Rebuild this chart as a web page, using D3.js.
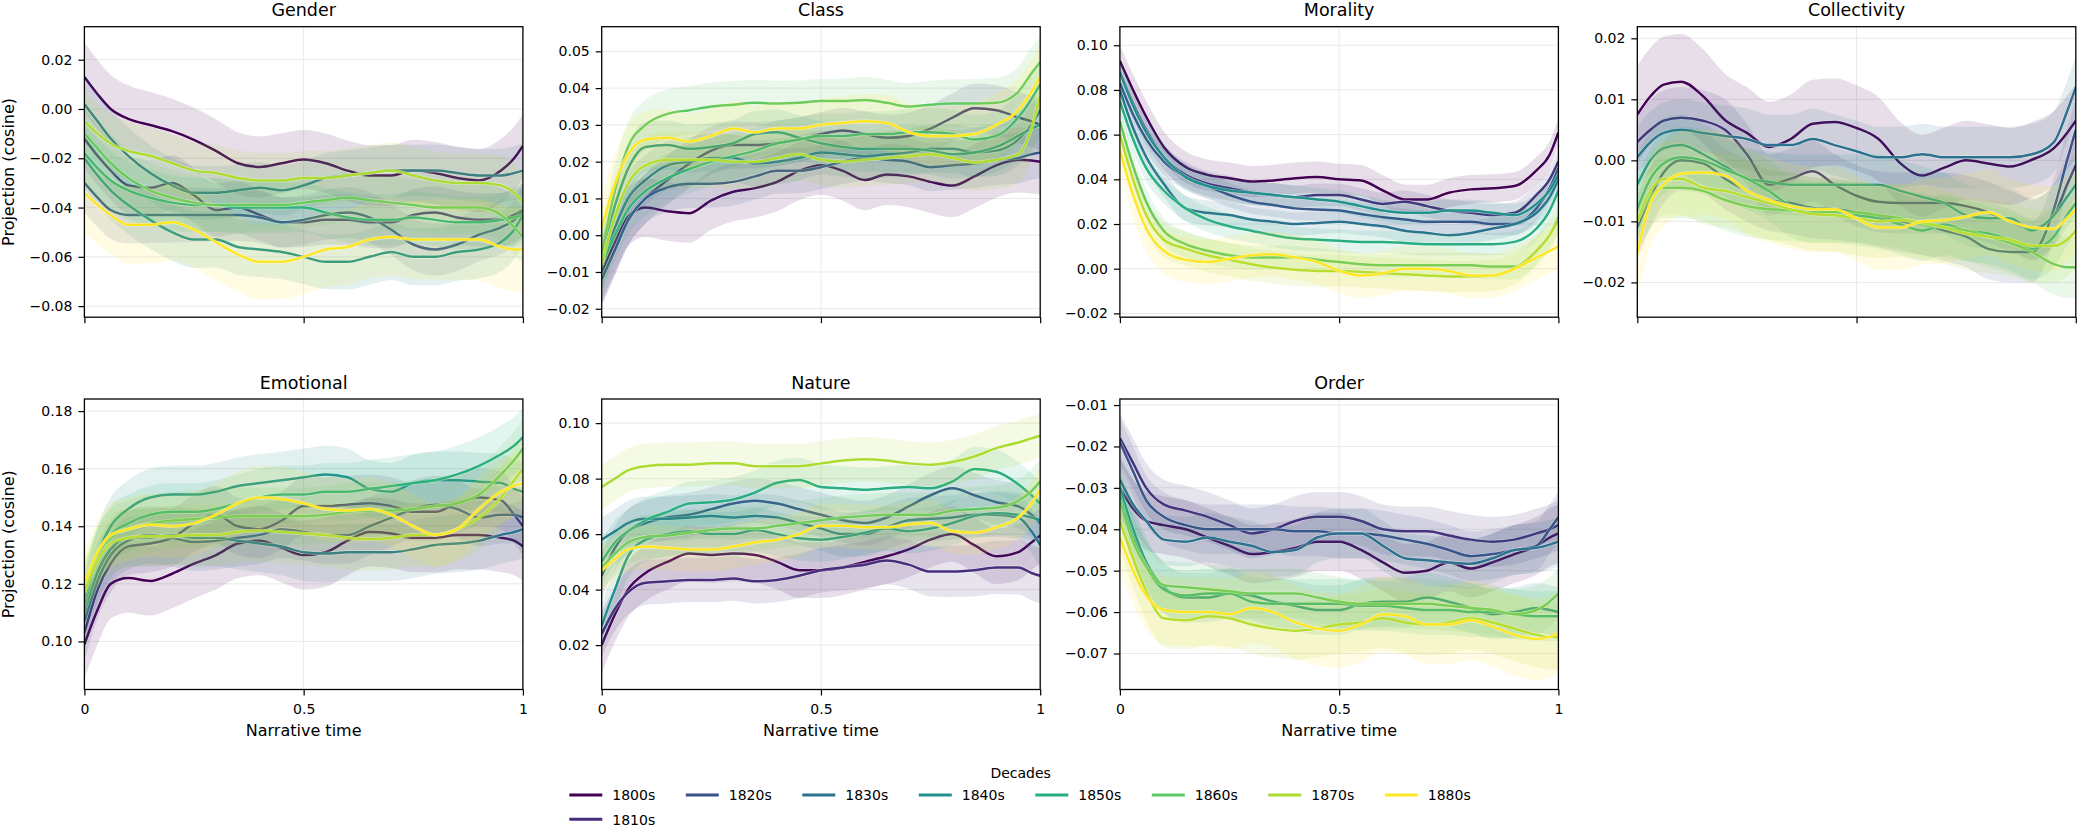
<!DOCTYPE html>
<html>
<head>
<meta charset="utf-8">
<script src="https://cdn.jsdelivr.net/npm/d3@7"></script>
<style>
body { margin: 0; background: #fff; }
text { font-family: "DejaVu Sans", sans-serif; fill: #000; }
</style>
</head>
<body>
<script>
// narrative time grid (x positions where values were read)
var narrativeTime = [0, 0.03, 0.06, 0.1, 0.15, 0.2, 0.25, 0.3, 0.35, 0.4, 0.45, 0.5, 0.55, 0.6, 0.65, 0.7, 0.75, 0.8, 0.85, 0.9, 0.95, 0.98, 1];
var decades = ["1800s", "1810s", "1820s", "1830s", "1840s", "1850s", "1860s", "1870s", "1880s"];
var xTicks = [0, 0.5, 1];

// mean projection per decade (same order as decades)
var gender = [
  [0.013, 0.006, 0.000, -0.004, -0.0065, -0.009, -0.0125, -0.017, -0.022, -0.0235, -0.022, -0.0205, -0.022, -0.025, -0.027, -0.027, -0.025, -0.026, -0.028, -0.029, -0.025, -0.020, -0.015],
  [-0.012, -0.019, -0.025, -0.031, -0.032, -0.030, -0.035, -0.041, -0.040, -0.043, -0.046, -0.046, -0.045, -0.045, -0.046, -0.046, -0.043, -0.042, -0.044, -0.045, -0.045, -0.043, -0.041],
  [-0.030, -0.036, -0.041, -0.043, -0.043, -0.043, -0.043, -0.043, -0.043, -0.044, -0.046, -0.045, -0.043, -0.042, -0.044, -0.049, -0.055, -0.057, -0.055, -0.051, -0.048, -0.045, -0.041],
  [0.002, -0.005, -0.012, -0.019, -0.026, -0.031, -0.034, -0.034, -0.033, -0.032, -0.033, -0.031, -0.028, -0.027, -0.026, -0.025, -0.025, -0.025, -0.026, -0.027, -0.027, -0.026, -0.025],
  [-0.020, -0.027, -0.033, -0.039, -0.045, -0.050, -0.053, -0.053, -0.056, -0.057, -0.058, -0.060, -0.062, -0.062, -0.060, -0.058, -0.060, -0.060, -0.058, -0.057, -0.054, -0.049, -0.043],
  [-0.018, -0.024, -0.029, -0.033, -0.036, -0.038, -0.039, -0.039, -0.040, -0.040, -0.040, -0.040, -0.042, -0.044, -0.045, -0.045, -0.044, -0.045, -0.046, -0.046, -0.045, -0.044, -0.043],
  [-0.010, -0.016, -0.022, -0.028, -0.033, -0.036, -0.038, -0.039, -0.039, -0.039, -0.039, -0.038, -0.037, -0.036, -0.037, -0.038, -0.039, -0.040, -0.040, -0.040, -0.043, -0.048, -0.052],
  [-0.005, -0.010, -0.014, -0.017, -0.019, -0.022, -0.025, -0.026, -0.028, -0.029, -0.029, -0.028, -0.028, -0.027, -0.026, -0.025, -0.027, -0.029, -0.030, -0.030, -0.031, -0.034, -0.038],
  [-0.034, -0.039, -0.043, -0.047, -0.047, -0.046, -0.049, -0.054, -0.059, -0.062, -0.062, -0.060, -0.057, -0.056, -0.053, -0.052, -0.053, -0.053, -0.053, -0.053, -0.056, -0.057, -0.057]
];
var classData = [
  [-0.010, -0.002, 0.005, 0.0075, 0.0065, 0.006, 0.0095, 0.0118, 0.0128, 0.0145, 0.0175, 0.019, 0.0175, 0.015, 0.0165, 0.016, 0.0145, 0.0135, 0.016, 0.019, 0.0205, 0.0203, 0.020],
  [-0.012, -0.004, 0.004, 0.010, 0.015, 0.0195, 0.023, 0.0245, 0.0245, 0.025, 0.026, 0.0275, 0.0285, 0.0275, 0.0265, 0.027, 0.029, 0.032, 0.0345, 0.034, 0.032, 0.031, 0.030],
  [-0.012, -0.004, 0.004, 0.010, 0.013, 0.014, 0.014, 0.0145, 0.016, 0.0175, 0.0175, 0.0185, 0.020, 0.021, 0.0205, 0.020, 0.0185, 0.019, 0.0195, 0.0205, 0.021, 0.022, 0.0225],
  [-0.008, 0.002, 0.010, 0.015, 0.019, 0.020, 0.021, 0.021, 0.0195, 0.020, 0.021, 0.0225, 0.022, 0.0215, 0.022, 0.0225, 0.0235, 0.0235, 0.0225, 0.023, 0.026, 0.030, 0.034],
  [-0.005, 0.008, 0.018, 0.024, 0.0245, 0.0235, 0.024, 0.025, 0.0275, 0.028, 0.0265, 0.025, 0.024, 0.0235, 0.0235, 0.0235, 0.023, 0.022, 0.0225, 0.024, 0.027, 0.029, 0.030],
  [-0.008, 0.000, 0.007, 0.012, 0.0155, 0.018, 0.020, 0.0215, 0.023, 0.025, 0.026, 0.027, 0.027, 0.0275, 0.0275, 0.028, 0.028, 0.0275, 0.026, 0.027, 0.032, 0.037, 0.041],
  [-0.005, 0.012, 0.024, 0.030, 0.033, 0.034, 0.035, 0.0355, 0.036, 0.0358, 0.036, 0.0365, 0.0365, 0.0368, 0.036, 0.035, 0.0355, 0.0358, 0.0358, 0.036, 0.039, 0.044, 0.047],
  [-0.008, 0.005, 0.014, 0.019, 0.0205, 0.0205, 0.0205, 0.020, 0.020, 0.021, 0.022, 0.0205, 0.020, 0.0205, 0.021, 0.0215, 0.022, 0.021, 0.0198, 0.0205, 0.022, 0.029, 0.038],
  [0.002, 0.014, 0.022, 0.026, 0.0265, 0.0255, 0.027, 0.029, 0.028, 0.029, 0.029, 0.030, 0.0305, 0.031, 0.0305, 0.028, 0.027, 0.027, 0.0275, 0.030, 0.034, 0.039, 0.043]
];
var morality = [
  [0.093, 0.080, 0.068, 0.0545, 0.0455, 0.042, 0.0405, 0.039, 0.0395, 0.0405, 0.041, 0.040, 0.0395, 0.035, 0.031, 0.031, 0.034, 0.0355, 0.036, 0.037, 0.044, 0.051, 0.061],
  [0.088, 0.074, 0.062, 0.050, 0.042, 0.038, 0.036, 0.034, 0.033, 0.032, 0.033, 0.033, 0.031, 0.029, 0.030, 0.028, 0.026, 0.025, 0.024, 0.025, 0.033, 0.040, 0.048],
  [0.083, 0.069, 0.058, 0.048, 0.041, 0.037, 0.033, 0.030, 0.0285, 0.027, 0.0265, 0.026, 0.0245, 0.023, 0.022, 0.021, 0.021, 0.021, 0.020, 0.020, 0.027, 0.036, 0.045],
  [0.080, 0.063, 0.050, 0.038, 0.027, 0.025, 0.024, 0.022, 0.021, 0.020, 0.0205, 0.021, 0.020, 0.019, 0.017, 0.016, 0.015, 0.016, 0.018, 0.020, 0.025, 0.032, 0.040],
  [0.088, 0.073, 0.061, 0.050, 0.041, 0.037, 0.035, 0.034, 0.033, 0.032, 0.031, 0.030, 0.028, 0.026, 0.025, 0.025, 0.026, 0.026, 0.025, 0.024, 0.029, 0.035, 0.042],
  [0.075, 0.058, 0.045, 0.035, 0.027, 0.022, 0.019, 0.017, 0.015, 0.0135, 0.013, 0.0125, 0.012, 0.012, 0.0115, 0.011, 0.011, 0.011, 0.011, 0.012, 0.018, 0.026, 0.035],
  [0.066, 0.046, 0.030, 0.017, 0.011, 0.008, 0.006, 0.005, 0.005, 0.005, 0.004, 0.003, 0.002, 0.0015, 0.0015, 0.0015, 0.0015, 0.0015, 0.001, 0.001, 0.008, 0.015, 0.023],
  [0.060, 0.040, 0.024, 0.013, 0.009, 0.006, 0.004, 0.002, 0.0005, -0.0005, -0.001, -0.001, -0.0015, -0.002, -0.0025, -0.003, -0.0035, -0.0035, -0.003, 0.000, 0.008, 0.015, 0.022],
  [0.053, 0.033, 0.018, 0.008, 0.004, 0.003, 0.0045, 0.006, 0.0065, 0.005, 0.003, -0.001, -0.003, -0.002, 0.000, 0.000, -0.001, -0.003, -0.003, 0.000, 0.005, 0.008, 0.010]
];
var collectivity = [
  [0.0075, 0.0105, 0.0124, 0.0129, 0.0105, 0.0066, 0.0045, 0.0022, 0.0035, 0.006, 0.0063, 0.0053, 0.0035, -0.0005, -0.0025, -0.0012, 0.000, -0.0005, -0.001, 0.0001, 0.002, 0.0045, 0.0065],
  [0.003, 0.005, 0.0065, 0.007, 0.0065, 0.005, 0.001, -0.004, -0.003, -0.0018, -0.004, -0.0058, -0.0068, -0.007, -0.007, -0.007, -0.0075, -0.0085, -0.010, -0.0112, -0.009, -0.004, -0.0008],
  [-0.011, -0.006, -0.002, 0.000, -0.0005, -0.003, -0.005, -0.0065, -0.007, -0.0078, -0.008, -0.0085, -0.0092, -0.010, -0.0105, -0.0115, -0.0125, -0.0145, -0.015, -0.015, -0.008, 0.000, 0.005],
  [0.0005, 0.003, 0.0045, 0.005, 0.0045, 0.004, 0.0035, 0.0025, 0.0025, 0.0035, 0.0025, 0.0015, 0.0005, 0.0005, 0.001, 0.0005, 0.0005, 0.0005, 0.0005, 0.001, 0.003, 0.008, 0.012],
  [-0.004, 0.000, 0.002, 0.0025, 0.001, -0.001, -0.003, -0.0035, -0.004, -0.004, -0.004, -0.004, -0.004, -0.005, -0.006, -0.007, -0.009, -0.0095, -0.0095, -0.0115, -0.009, -0.006, -0.004],
  [-0.008, -0.003, -0.0005, 0.0005, 0.000, -0.0015, -0.003, -0.005, -0.0075, -0.0085, -0.0085, -0.009, -0.0095, -0.0105, -0.0115, -0.0105, -0.0115, -0.012, -0.013, -0.0145, -0.0125, -0.009, -0.007],
  [-0.010, -0.006, -0.0045, -0.0045, -0.005, -0.0065, -0.0075, -0.008, -0.0082, -0.0085, -0.0085, -0.0085, -0.009, -0.0095, -0.0105, -0.011, -0.0115, -0.0125, -0.0135, -0.015, -0.017, -0.0175, -0.0175],
  [-0.010, -0.005, -0.003, -0.003, -0.0045, -0.005, -0.006, -0.007, -0.008, -0.0088, -0.009, -0.0095, -0.010, -0.0098, -0.0102, -0.011, -0.012, -0.0125, -0.013, -0.014, -0.014, -0.013, -0.0115],
  [-0.015, -0.007, -0.004, -0.0022, -0.002, -0.0025, -0.005, -0.0065, -0.0075, -0.008, -0.008, -0.0095, -0.011, -0.011, -0.010, -0.0098, -0.0092, -0.0085, -0.010, -0.011, -0.0112, -0.0095, -0.008]
];
var emotional = [
  [0.099, 0.111, 0.120, 0.122, 0.121, 0.1235, 0.127, 0.130, 0.134, 0.135, 0.1325, 0.130, 0.131, 0.135, 0.138, 0.1375, 0.136, 0.136, 0.137, 0.137, 0.136, 0.135, 0.133],
  [0.103, 0.118, 0.127, 0.133, 0.134, 0.136, 0.141, 0.144, 0.140, 0.139, 0.142, 0.147, 0.147, 0.1475, 0.148, 0.147, 0.145, 0.145, 0.148, 0.150, 0.149, 0.144, 0.140],
  [0.107, 0.121, 0.130, 0.135, 0.137, 0.136, 0.1345, 0.135, 0.136, 0.137, 0.139, 0.138, 0.137, 0.137, 0.140, 0.143, 0.146, 0.1475, 0.146, 0.143, 0.144, 0.144, 0.143],
  [0.110, 0.124, 0.132, 0.136, 0.136, 0.137, 0.136, 0.136, 0.135, 0.134, 0.133, 0.131, 0.1305, 0.131, 0.131, 0.131, 0.132, 0.1335, 0.134, 0.135, 0.137, 0.138, 0.139],
  [0.112, 0.130, 0.140, 0.146, 0.150, 0.151, 0.151, 0.152, 0.154, 0.155, 0.156, 0.157, 0.158, 0.157, 0.153, 0.152, 0.155, 0.156, 0.156, 0.1555, 0.155, 0.153, 0.152],
  [0.115, 0.129, 0.137, 0.141, 0.144, 0.145, 0.145, 0.146, 0.148, 0.150, 0.151, 0.151, 0.152, 0.152, 0.153, 0.154, 0.155, 0.156, 0.158, 0.161, 0.165, 0.168, 0.171],
  [0.118, 0.130, 0.136, 0.139, 0.141, 0.142, 0.1425, 0.143, 0.1435, 0.1435, 0.1435, 0.1435, 0.144, 0.145, 0.1455, 0.1455, 0.146, 0.147, 0.148, 0.151, 0.158, 0.163, 0.167],
  [0.117, 0.128, 0.134, 0.136, 0.1365, 0.1365, 0.137, 0.137, 0.138, 0.1385, 0.138, 0.1375, 0.137, 0.136, 0.1355, 0.136, 0.137, 0.137, 0.139, 0.143, 0.150, 0.156, 0.160],
  [0.120, 0.131, 0.137, 0.139, 0.1405, 0.140, 0.141, 0.144, 0.148, 0.150, 0.1495, 0.148, 0.146, 0.1455, 0.146, 0.144, 0.140, 0.137, 0.139, 0.146, 0.152, 0.154, 0.155]
];
var nature = [
  [0.020, 0.031, 0.040, 0.046, 0.050, 0.053, 0.0525, 0.053, 0.0525, 0.050, 0.047, 0.047, 0.048, 0.050, 0.052, 0.0545, 0.058, 0.060, 0.056, 0.052, 0.0535, 0.057, 0.0595],
  [0.024, 0.033, 0.039, 0.0425, 0.043, 0.0435, 0.0435, 0.044, 0.043, 0.0435, 0.045, 0.047, 0.048, 0.049, 0.0505, 0.049, 0.0465, 0.0465, 0.047, 0.048, 0.048, 0.046, 0.045],
  [0.045, 0.055, 0.061, 0.064, 0.066, 0.067, 0.069, 0.071, 0.072, 0.071, 0.069, 0.067, 0.065, 0.064, 0.066, 0.070, 0.074, 0.0765, 0.074, 0.0715, 0.070, 0.067, 0.064],
  [0.058, 0.061, 0.064, 0.0655, 0.0655, 0.066, 0.0665, 0.066, 0.0665, 0.066, 0.064, 0.062, 0.060, 0.060, 0.0625, 0.065, 0.0655, 0.066, 0.067, 0.067, 0.066, 0.061, 0.056],
  [0.027, 0.040, 0.052, 0.058, 0.060, 0.061, 0.060, 0.060, 0.0615, 0.060, 0.0585, 0.058, 0.059, 0.0605, 0.062, 0.061, 0.062, 0.064, 0.0665, 0.0675, 0.067, 0.066, 0.065],
  [0.050, 0.057, 0.061, 0.065, 0.068, 0.071, 0.0715, 0.0725, 0.075, 0.0785, 0.0795, 0.077, 0.0765, 0.076, 0.0765, 0.077, 0.0765, 0.079, 0.0835, 0.0825, 0.078, 0.074, 0.071],
  [0.048, 0.053, 0.057, 0.059, 0.0595, 0.0605, 0.0615, 0.062, 0.062, 0.063, 0.064, 0.065, 0.066, 0.0665, 0.067, 0.067, 0.067, 0.0685, 0.069, 0.0695, 0.072, 0.0755, 0.079],
  [0.077, 0.080, 0.083, 0.0845, 0.085, 0.085, 0.0855, 0.0855, 0.0845, 0.0845, 0.0845, 0.0855, 0.0865, 0.087, 0.0865, 0.0855, 0.085, 0.086, 0.088, 0.091, 0.093, 0.0945, 0.0955],
  [0.047, 0.051, 0.0545, 0.0555, 0.055, 0.0545, 0.0545, 0.0555, 0.057, 0.058, 0.060, 0.063, 0.063, 0.0625, 0.0625, 0.0635, 0.064, 0.061, 0.0605, 0.0625, 0.066, 0.071, 0.076]
];
var order = [
  [-0.030, -0.035, -0.038, -0.039, -0.040, -0.042, -0.044, -0.046, -0.0455, -0.0445, -0.043, -0.043, -0.045, -0.048, -0.0505, -0.050, -0.048, -0.0495, -0.048, -0.046, -0.044, -0.042, -0.041],
  [-0.018, -0.024, -0.030, -0.034, -0.0355, -0.037, -0.039, -0.041, -0.040, -0.038, -0.037, -0.037, -0.038, -0.040, -0.0405, -0.0405, -0.0415, -0.0425, -0.043, -0.0425, -0.041, -0.040, -0.039],
  [-0.019, -0.026, -0.033, -0.037, -0.039, -0.040, -0.040, -0.040, -0.040, -0.0405, -0.0405, -0.041, -0.041, -0.0415, -0.0425, -0.0435, -0.045, -0.0465, -0.046, -0.045, -0.044, -0.040, -0.037],
  [-0.028, -0.034, -0.038, -0.0425, -0.043, -0.042, -0.043, -0.044, -0.0455, -0.045, -0.042, -0.041, -0.041, -0.044, -0.047, -0.0475, -0.048, -0.0483, -0.047, -0.045, -0.0445, -0.0437, -0.043],
  [-0.030, -0.040, -0.048, -0.054, -0.0565, -0.0565, -0.0555, -0.056, -0.0575, -0.0585, -0.0595, -0.0595, -0.058, -0.0575, -0.0575, -0.0565, -0.0575, -0.059, -0.0605, -0.060, -0.059, -0.0595, -0.060],
  [-0.032, -0.042, -0.049, -0.0545, -0.056, -0.0555, -0.0555, -0.0575, -0.058, -0.058, -0.058, -0.058, -0.0585, -0.0585, -0.059, -0.0595, -0.0595, -0.060, -0.060, -0.0605, -0.061, -0.061, -0.061],
  [-0.033, -0.043, -0.049, -0.0535, -0.054, -0.0545, -0.055, -0.0555, -0.0555, -0.0555, -0.0565, -0.0575, -0.058, -0.058, -0.058, -0.058, -0.0585, -0.059, -0.0595, -0.0605, -0.0595, -0.0575, -0.0555],
  [-0.038, -0.047, -0.055, -0.0615, -0.062, -0.061, -0.0615, -0.063, -0.064, -0.0645, -0.064, -0.063, -0.0625, -0.0615, -0.0625, -0.063, -0.0625, -0.0615, -0.0625, -0.064, -0.0655, -0.066, -0.066],
  [-0.042, -0.050, -0.056, -0.0595, -0.060, -0.060, -0.0605, -0.059, -0.060, -0.0625, -0.064, -0.0645, -0.063, -0.0605, -0.061, -0.063, -0.063, -0.062, -0.0635, -0.0655, -0.0665, -0.066, -0.065]
];

// half-width of the shaded band at narrative time 0, 0.5 and 1
var genderBand = [[0.014,0.012,0.013],[0.012,0.010,0.011],[0.012,0.010,0.011],[0.012,0.010,0.011],[0.012,0.011,0.012],[0.012,0.010,0.011],[0.012,0.010,0.011],[0.012,0.011,0.012],[0.016,0.015,0.017]];
var classBand = [[0.008,0.008,0.009],[0.007,0.006,0.007],[0.007,0.006,0.007],[0.007,0.006,0.007],[0.007,0.006,0.007],[0.007,0.006,0.007],[0.007,0.006,0.007],[0.008,0.007,0.008],[0.008,0.007,0.009]];
var moralityBand = [[0.007,0.007,0.006],[0.006,0.005,0.005],[0.006,0.005,0.005],[0.006,0.005,0.005],[0.006,0.005,0.005],[0.006,0.005,0.005],[0.006,0.005,0.006],[0.008,0.007,0.007],[0.010,0.010,0.010]];
var collectivityBand = [[0.008,0.007,0.006],[0.005,0.005,0.005],[0.005,0.005,0.005],[0.005,0.005,0.005],[0.005,0.005,0.005],[0.005,0.005,0.005],[0.005,0.005,0.005],[0.006,0.006,0.006],[0.007,0.007,0.007]];
var emotionalBand = [[0.012,0.012,0.012],[0.010,0.010,0.010],[0.010,0.010,0.010],[0.010,0.010,0.010],[0.010,0.010,0.010],[0.010,0.010,0.010],[0.010,0.010,0.010],[0.010,0.011,0.011],[0.011,0.011,0.011]];
var natureBand = [[0.010,0.010,0.010],[0.008,0.008,0.010],[0.008,0.008,0.008],[0.008,0.008,0.008],[0.008,0.008,0.008],[0.008,0.008,0.008],[0.008,0.008,0.008],[0.008,0.008,0.008],[0.008,0.008,0.008]];
var orderBand = [[0.007,0.007,0.007],[0.006,0.006,0.006],[0.006,0.006,0.006],[0.006,0.006,0.006],[0.006,0.006,0.006],[0.006,0.006,0.006],[0.006,0.006,0.006],[0.007,0.007,0.008],[0.008,0.009,0.010]];

// y tick labels and y ranges
var genderTicks = [0.02, 0, -0.02, -0.04, -0.06, -0.08];
var classTicks = [0.05, 0.04, 0.03, 0.02, 0.01, 0, -0.01, -0.02];
var moralityTicks = [0.10, 0.08, 0.06, 0.04, 0.02, 0, -0.02];
var collectivityTicks = [0.02, 0.01, 0, -0.01, -0.02];
var emotionalTicks = [0.18, 0.16, 0.14, 0.12, 0.10];
var natureTicks = [0.10, 0.08, 0.06, 0.04, 0.02];
var orderTicks = [-0.01, -0.02, -0.03, -0.04, -0.05, -0.06, -0.07];

var genderRange = [-0.0845, 0.0334];
var classRange = [-0.0223, 0.0567];
var moralityRange = [-0.0217, 0.1083];
var collectivityRange = [-0.0257, 0.0219];
var emotionalRange = [0.0833, 0.1842];
var natureRange = [0.004, 0.1087];
var orderRange = [-0.0787, -0.00854];

var panels = [
  {title: "Gender", values: gender, band: genderBand, ticks: genderTicks, range: genderRange},
  {title: "Class", values: classData, band: classBand, ticks: classTicks, range: classRange},
  {title: "Morality", values: morality, band: moralityBand, ticks: moralityTicks, range: moralityRange},
  {title: "Collectivity", values: collectivity, band: collectivityBand, ticks: collectivityTicks, range: collectivityRange},
  {title: "Emotional", values: emotional, band: emotionalBand, ticks: emotionalTicks, range: emotionalRange},
  {title: "Nature", values: nature, band: natureBand, ticks: natureTicks, range: natureRange},
  {title: "Order", values: order, band: orderBand, ticks: orderTicks, range: orderRange}
];

// layout
var colLeft = [84.4, 601.7, 1119.9, 1637.3],
    rowTop = [26.7, 399],
    w = 438.5,
    h = 290.5;

var color = function(i) { return d3.interpolateViridis(i / (decades.length - 1)); };
var yFmt = d3.format(".2f");

var svg = d3.select("body").append("svg")
    .attr("width", 2082)
    .attr("height", 827);

panels.forEach(function(p, k) {
  var col = k % 4, row = Math.floor(k / 4);
  var bottomRow = k >= 4;

  var x = d3.scaleLinear().domain([0, 1]).range([0, w]);
  var y = d3.scaleLinear().domain(p.range).range([h, 0]);

  var g = svg.append("g")
      .attr("transform", "translate(" + colLeft[col] + "," + rowTop[row] + ")");

  g.append("clipPath").attr("id", "clip" + k)
    .append("rect").attr("width", w).attr("height", h);

  // grid
  var grid = g.append("g").attr("class", "grid");
  grid.selectAll("line.gy").data(p.ticks).join("line")
      .attr("class", "gy")
      .attr("x1", 0).attr("x2", w)
      .attr("y1", function(d) { return y(d); })
      .attr("y2", function(d) { return y(d); })
      .attr("stroke", "#e9e9e9").attr("stroke-width", 1);
  grid.append("line")
      .attr("x1", x(0.5)).attr("x2", x(0.5))
      .attr("y1", 0).attr("y2", h)
      .attr("stroke", "#e9e9e9").attr("stroke-width", 1);

  var plot = g.append("g").attr("clip-path", "url(#clip" + k + ")");

  p.values.forEach(function(series, i) {
    var hw = d3.scaleLinear().domain([0, 0.5, 1]).range(p.band[i]);
    var pts = narrativeTime.map(function(t, j) { return {t: t, v: series[j]}; });

    var area = d3.area()
        .curve(d3.curveMonotoneX)
        .x(function(d) { return x(d.t); })
        .y0(function(d) { return y(d.v - hw(d.t)); })
        .y1(function(d) { return y(d.v + hw(d.t)); });
    var line = d3.line()
        .curve(d3.curveMonotoneX)
        .x(function(d) { return x(d.t); })
        .y(function(d) { return y(d.v); });

    plot.append("path").datum(pts)
        .attr("d", area)
        .attr("fill", color(i))
        .attr("fill-opacity", 0.13);
    plot.append("path").datum(pts)
        .attr("d", line)
        .attr("fill", "none")
        .attr("stroke", "#fff")
        .attr("stroke-opacity", 0.5)
        .attr("stroke-width", 3.6);
    plot.append("path").datum(pts)
        .attr("d", line)
        .attr("fill", "none")
        .attr("stroke", color(i))
        .attr("stroke-width", 2.5);
  });

  // axes
  var yAxis = g.append("g")
      .call(d3.axisLeft(y).tickValues(p.ticks).tickFormat(yFmt).tickSize(6).tickPadding(6));
  var xAxis = g.append("g")
      .attr("transform", "translate(0," + h + ")")
      .call(d3.axisBottom(x).tickValues(xTicks).tickSize(6).tickPadding(8.5)
        .tickFormat(bottomRow ? d3.format("~g") : ""));
  [yAxis, xAxis].forEach(function(a) {
    a.select(".domain").remove();
    a.selectAll(".tick line").attr("stroke", "#000").attr("stroke-width", 1.2);
    a.selectAll(".tick text").style("font-size", "14px").style("font-family", "DejaVu Sans, sans-serif").attr("fill", "#000");
  });

  g.append("rect")
      .attr("width", w).attr("height", h)
      .attr("fill", "none")
      .attr("stroke", "#000")
      .attr("stroke-width", 1.3);

  g.append("text")
      .attr("x", w / 2).attr("y", -10.5)
      .attr("text-anchor", "middle")
      .style("font-size", "17.5px")
      .text(p.title);

  if (col === 0) {
    g.append("text")
        .attr("transform", "translate(" + (14 - colLeft[0]) + "," + (h / 2) + ") rotate(-90)")
        .attr("text-anchor", "middle")
        .style("font-size", "16px")
        .text("Projection (cosine)");
  }
  if (bottomRow) {
    g.append("text")
        .attr("x", w / 2).attr("y", h + 46.7)
        .attr("text-anchor", "middle")
        .style("font-size", "16px")
        .text("Narrative time");
  }
});

// legend
var legend = svg.append("g").attr("class", "legend");
legend.append("text")
    .attr("x", 1020.7).attr("y", 778)
    .attr("text-anchor", "middle")
    .style("font-size", "14px")
    .text("Decades");

var legendItem = legend.selectAll("g.item")
    .data(decades)
    .join("g")
    .attr("class", "item")
    .attr("transform", function(d, i) {
      var c = i < 2 ? 0 : i - 1,
          r = i === 1 ? 1 : 0;
      return "translate(" + (569.3 + c * 116.5) + "," + (795 + r * 24.3) + ")";
    });
legendItem.append("line")
    .attr("x1", 0).attr("x2", 33)
    .attr("stroke", "#fff").attr("stroke-opacity", 0.5).attr("stroke-width", 4.6);
legendItem.append("line")
    .attr("x1", 0).attr("x2", 33)
    .attr("stroke", function(d, i) { return color(i); })
    .attr("stroke-width", 3);
legendItem.append("text")
    .attr("x", 43).attr("y", 5.3)
    .style("font-size", "14px")
    .text(function(d) { return d; });
</script>
</body>
</html>
